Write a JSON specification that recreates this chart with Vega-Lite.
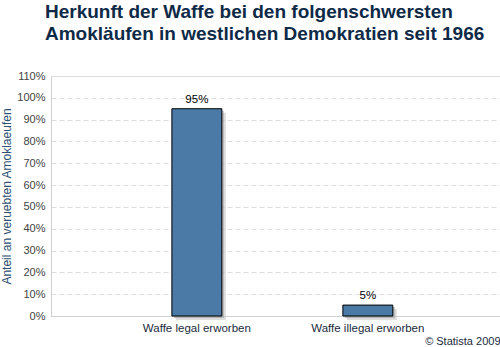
{
  "$schema": "https://vega.github.io/schema/vega-lite/v6.json",
  "width": 449,
  "height": 240,
  "autosize": "none",
  "padding": {"left": 51, "top": 76, "right": 0, "bottom": 31},
  "background": "white",
  "config": {
    "view": {"stroke": "#dddddd", "strokeWidth": 1},
    "font": "Liberation Sans"
  },
  "title": {
    "text": ["Herkunft der Waffe bei den folgenschwersten", "Amokläufen in westlichen Demokratien seit 1966"],
    "anchor": "start",
    "frame": "group",
    "dx": -6,
    "offset": 26,
    "fontSize": 19,
    "fontWeight": "bold",
    "font": "Liberation Sans",
    "color": "#0e2a47",
    "lineHeight": 22
  },
  "data": {
    "values": [
      {"Herkunft": "Waffe legal erworben", "Anteil": 0.95},
      {"Herkunft": "Waffe illegal erworben", "Anteil": 0.05}
    ]
  },
  "encoding": {
    "x": {
      "field": "Herkunft",
      "type": "nominal",
      "sort": null,
      "scale": {"paddingInner": 0.708, "paddingOuter": 0.667, "align": 0.53},
      "axis": {
        "title": "© Statista 2009",
        "titleAnchor": "end",
        "titleAlign": "right",
        "titleFontWeight": "normal",
        "titleFontSize": 11,
        "titleColor": "#1a2a40",
        "titlePadding": 2,
        "labelAngle": 0,
        "labelFontSize": 11.5,
        "labelColor": "#1a2a40",
        "labelPadding": 6,
        "ticks": false,
        "domainColor": "#d0d0d0",
        "grid": false
      }
    },
    "y": {
      "field": "Anteil",
      "type": "quantitative",
      "scale": {"domain": [0, 1.1], "nice": false},
      "axis": {
        "title": "Anteil an veruebten Amoklaeufen",
        "titleFontWeight": "normal",
        "titleFontSize": 12,
        "titleColor": "#2d4f72",
        "titlePadding": 3,
        "format": ".0%",
        "values": [0, 0.1, 0.2, 0.3, 0.4, 0.5, 0.6, 0.7, 0.8, 0.9, 1.0, 1.1],
        "labelFontSize": 11,
        "labelColor": "#444444",
        "labelPadding": 6,
        "ticks": false,
        "domainColor": "#d0d0d0",
        "gridColor": "#dddddd",
        "gridDash": [5, 3]
      }
    }
  },
  "layer": [
    {
      "mark": {"type": "bar", "color": "#bbbbbb", "opacity": 0.5, "xOffset": 4, "yOffset": 4}
    },
    {
      "mark": {"type": "bar", "color": "#999999", "opacity": 0.6, "xOffset": 2, "yOffset": 2}
    },
    {
      "mark": {"type": "bar", "color": "#4a7aa5", "stroke": "#000000", "strokeWidth": 1}
    },
    {
      "mark": {"type": "text", "dy": -9, "fontSize": 11.5, "color": "#000000"},
      "encoding": {"text": {"field": "Anteil", "type": "quantitative", "format": ".0%"}}
    }
  ]
}
